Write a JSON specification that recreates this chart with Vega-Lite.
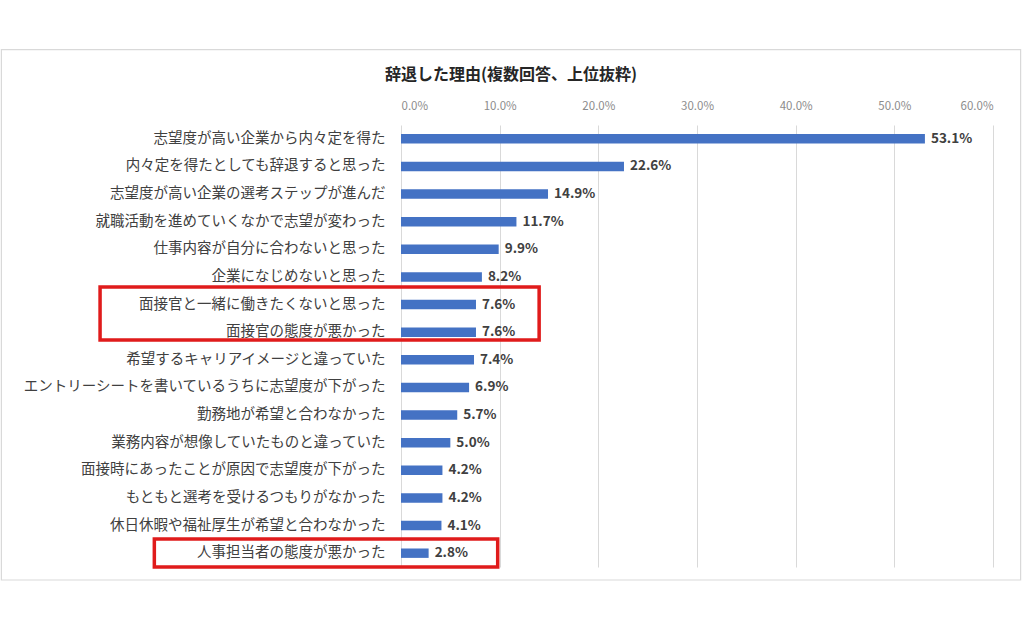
{
  "$schema": "https://vega.github.io/schema/vega-lite/v6.json",
  "autosize": "none",
  "width": 592,
  "height": 442,
  "padding": {"left": 401, "top": 125, "right": 31, "bottom": 62},
  "background": "white",
  "title": {
    "text": "辞退した理由(複数回答、上位抜粋)",
    "font": "Noto Sans CJK JP",
    "fontSize": 16,
    "fontWeight": "bold",
    "color": "#262626",
    "anchor": "middle",
    "frame": "bounds",
    "offset": -34
  },
  "config": {
    "view": {"stroke": null},
    "font": "Noto Sans CJK JP"
  },
  "datasets": {
    "reasons": [
      {"reason": "志望度が高い企業から内々定を得た", "share": 0.531},
      {"reason": "内々定を得たとしても辞退すると思った", "share": 0.226},
      {"reason": "志望度が高い企業の選考ステップが進んだ", "share": 0.149},
      {"reason": "就職活動を進めていくなかで志望が変わった", "share": 0.117},
      {"reason": "仕事内容が自分に合わないと思った", "share": 0.099},
      {"reason": "企業になじめないと思った", "share": 0.082},
      {"reason": "面接官と一緒に働きたくないと思った", "share": 0.076},
      {"reason": "面接官の態度が悪かった", "share": 0.076},
      {"reason": "希望するキャリアイメージと違っていた", "share": 0.074},
      {"reason": "エントリーシートを書いているうちに志望度が下がった", "share": 0.069},
      {"reason": "勤務地が希望と合わなかった", "share": 0.057},
      {"reason": "業務内容が想像していたものと違っていた", "share": 0.050},
      {"reason": "面接時にあったことが原因で志望度が下がった", "share": 0.042},
      {"reason": "もともと選考を受けるつもりがなかった", "share": 0.042},
      {"reason": "休日休暇や福祉厚生が希望と合わなかった", "share": 0.041},
      {"reason": "人事担当者の態度が悪かった", "share": 0.028}
    ],
    "highlights": [
      {"x1": -0.305, "x2": 0.140, "row1": 5.86, "row2": 7.78},
      {"x1": -0.250, "x2": 0.098, "row1": 14.99, "row2": 16.0}
    ],
    "frame": [
      {"x1": -0.405, "x2": 0.628, "row1": -2.73, "row2": 16.47}
    ]
  },
  "layer": [
    {
      "data": {"name": "frame"},
      "mark": {"type": "rect", "fill": null, "stroke": "#d9d9d9", "strokeWidth": 1.2},
      "encoding": {
        "x": {"field": "x1", "type": "quantitative", "scale": {"domain": [0, 0.6]}},
        "x2": {"field": "x2"},
        "y": {"field": "row1", "type": "quantitative", "scale": {"domain": [0, 16], "reverse": true}, "axis": null},
        "y2": {"field": "row2"}
      }
    },
    {
      "data": {"name": "reasons"},
      "layer": [
        {
          "mark": {"type": "bar", "color": "#4472C4"},
          "encoding": {
            "x": {
              "field": "share",
              "type": "quantitative",
              "scale": {"domain": [0, 0.6]},
              "axis": {
                "orient": "top",
                "format": ".1%",
                "values": [0, 0.1, 0.2, 0.3, 0.4, 0.5, 0.6],
                "title": null,
                "domain": false,
                "ticks": false,
                "labelPadding": 14,
                "labelFontSize": 11.5,
                "labelColor": "#8c8c8c",
                "gridColor": "#d9d9d9"
              }
            },
            "y": {
              "field": "reason",
              "type": "nominal",
              "sort": null,
              "scale": {"paddingInner": 0.66, "paddingOuter": 0.33},
              "axis": {
                "title": null,
                "domain": false,
                "ticks": false,
                "labelPadding": 16,
                "labelFontSize": 14.5,
                "labelColor": "#404040",
                "labelLimit": 500
              }
            }
          }
        },
        {
          "mark": {"type": "text", "align": "left", "dx": 6, "fontSize": 13.5, "fontWeight": "bold", "color": "#404040"},
          "encoding": {
            "x": {"field": "share", "type": "quantitative"},
            "y": {"field": "reason", "type": "nominal", "sort": null},
            "text": {"field": "share", "type": "quantitative", "format": ".1%"}
          }
        }
      ]
    },
    {
      "data": {"name": "highlights"},
      "mark": {"type": "rect", "fill": null, "stroke": "#e01b1b", "strokeWidth": 3.5},
      "encoding": {
        "x": {"field": "x1", "type": "quantitative"},
        "x2": {"field": "x2"},
        "y": {"field": "row1", "type": "quantitative", "scale": {"domain": [0, 16], "reverse": true}, "axis": null},
        "y2": {"field": "row2"}
      }
    }
  ],
  "resolve": {"scale": {"y": "independent"}, "axis": {"y": "independent"}}
}
